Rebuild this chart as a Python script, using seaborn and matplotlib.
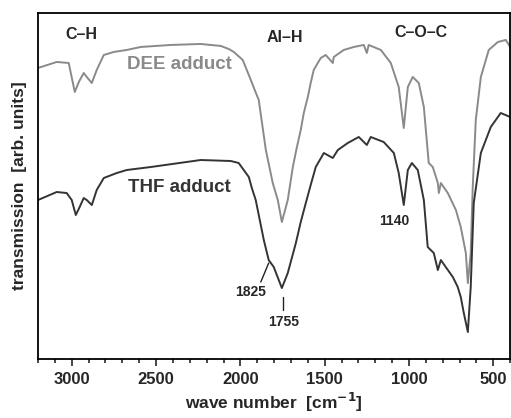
import numpy as np
import pandas as pd
import matplotlib
matplotlib.use("Agg")
import matplotlib.pyplot as plt
import seaborn as sns

# === DATOS ===
dee_wn = [3200, 3089, 3018, 2982, 2958, 2929, 2911, 2881, 2852, 2810, 2751, 2674,
          2591, 2413, 2235, 2116, 2069, 2039, 1986, 1962, 1938, 1915, 1891, 1849,
          1808, 1778, 1754, 1719, 1689, 1666, 1642, 1624, 1600, 1583, 1565, 1541,
          1523, 1494, 1452, 1446, 1387, 1327, 1268, 1250, 1239, 1167, 1108, 1061,
          1031, 1007, 978, 942, 912, 883, 859, 829, 823, 811, 770, 722, 693, 663,
          651, 634, 622, 604, 574, 527, 473, 426, 400]
dee_t = [291, 297, 296, 267, 277, 286, 282, 276, 289, 304, 307, 309,
         312, 314, 315, 313, 310, 307, 299, 289, 279, 269, 259, 209,
         176, 159, 137, 159, 192, 211, 229, 246, 262, 276, 289, 296,
         301, 304, 296, 302, 309, 312, 314, 306, 314, 309, 296, 272,
         231, 272, 282, 276, 252, 196, 192, 176, 166, 176, 166, 149, 132, 106,
         76, 106, 172, 239, 282, 309, 317, 319, 312]

thf_wn = [3200, 3089, 3030, 3000, 2976, 2953, 2929, 2911, 2881, 2852, 2810, 2733,
          2674, 2531, 2235, 2057, 2010, 1980, 1950, 1932, 1909, 1861, 1832, 1802,
          1754, 1719, 1671, 1642, 1612, 1583, 1553, 1529, 1505, 1452, 1422, 1363,
          1298, 1250, 1227, 1150, 1090, 1061, 1031, 1007, 983, 948, 912, 889, 853,
          829, 811, 782, 740, 711, 693, 675, 651, 634, 616, 574, 515, 456, 400]
thf_t = [159, 167, 166, 159, 144, 152, 161, 159, 154, 169, 181, 186,
         189, 192, 199, 198, 196, 189, 182, 171, 159, 119, 99, 92,
         71, 86, 116, 137, 156, 174, 192, 199, 206, 201, 209, 216,
         222, 214, 222, 217, 206, 186, 154, 189, 196, 189, 159, 112, 106,
         89, 99, 92, 82, 72, 62, 46, 27, 72, 156, 206, 232, 246, 242]

series_names = ["DEE adduct", "THF adduct"]
series_colors = ["#8a8a8a", "#343434"]

df = pd.concat([
    pd.DataFrame({"wn": dee_wn, "t": dee_t, "muestra": series_names[0]}),
    pd.DataFrame({"wn": thf_wn, "t": thf_t, "muestra": series_names[1]}),
])

# === ESTILO ===
sns.set_theme(style="ticks")
plt.rcParams["font.family"] = ["Liberation Sans", "DejaVu Sans"]
plt.rcParams["font.weight"] = "bold"
plt.rcParams["mathtext.default"] = "bf"

fig = plt.figure(figsize=(5.11, 4.18), dpi=100)
ax = fig.add_axes([0.0744, 0.141, 0.924, 0.828])

sns.lineplot(data=df, x="wn", y="t", hue="muestra", palette=series_colors,
             sort=False, estimator=None, linewidth=1.4, legend=False, ax=ax)

ax.set_xlim(3200, 400)
ax.set_ylim(0, 346)
ax.set_xticks([3000, 2500, 2000, 1500, 1000, 500])
ax.set_xticks(np.arange(3200, 399, -100), minor=True)
ax.set_yticks([])
ax.tick_params(axis="x", which="major", length=5, width=1.2, direction="out",
               labelsize=12, pad=4)
ax.tick_params(axis="x", which="minor", length=3, width=1.2, direction="out")
for lab in ax.get_xticklabels():
    lab.set_fontweight("bold")
for sp in ax.spines.values():
    sp.set_visible(True)
    sp.set_linewidth(1.3)
    sp.set_color("black")

ax.set_xlabel("wave number  [cm$^{-1}$]", fontsize=12.5, fontweight="bold", labelpad=3)
ax.set_ylabel("transmission  [arb. units]", fontsize=12.5, fontweight="bold", labelpad=8)

# === ANOTACIONES ===
ax.text(2940, 324, "C–H", ha="center", va="center", fontsize=11.5, fontweight="bold")
ax.text(1737, 321, "Al–H", ha="center", va="center", fontsize=11.5, fontweight="bold")
ax.text(930, 326, "C–O–C", ha="center", va="center", fontsize=11.5, fontweight="bold")
ax.text(2360, 294, "DEE adduct", ha="center", va="center", fontsize=13.5,
        fontweight="bold", color=series_colors[0])
ax.text(2360, 172, "THF adduct", ha="center", va="center", fontsize=13.5,
        fontweight="bold", color=series_colors[1])
ax.text(1085, 138, "1140", ha="center", va="center", fontsize=10, fontweight="bold")
ax.text(1938, 67, "1825", ha="center", va="center", fontsize=10, fontweight="bold")
ax.text(1743, 37, "1755", ha="center", va="center", fontsize=10, fontweight="bold")
ax.plot([1879, 1832], [77, 96], color="#222222", linewidth=1)
ax.plot([1749, 1749], [49, 62], color="#222222", linewidth=1)

fig.savefig("out.png", dpi=100)
